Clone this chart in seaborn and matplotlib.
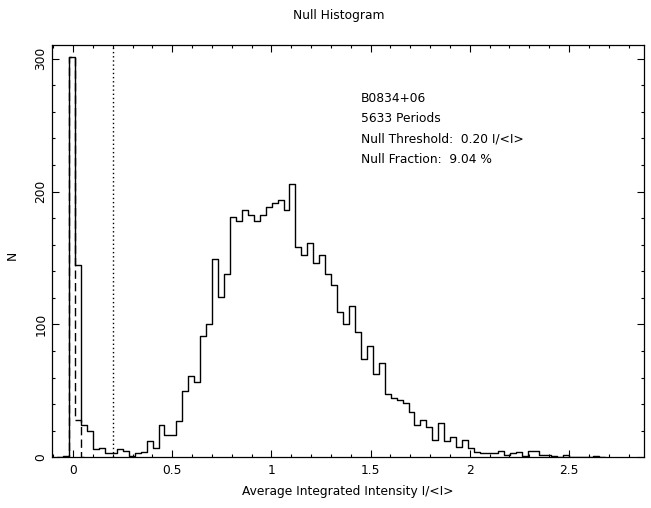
import numpy as np
import pandas as pd
import matplotlib
matplotlib.use("Agg")
import matplotlib.pyplot as plt
from matplotlib.ticker import MultipleLocator, FuncFormatter
import seaborn as sns

# ---- data ----
bin_start = -0.079      # left edge of first bin
bin_width = 0.03
counts = [0, 1, 301, 145, 24, 20, 6, 7, 3, 3, 6, 5, 1, 3, 4, 12, 7, 24, 17, 17,
          27, 50, 61, 57, 91, 100, 149, 121, 138, 181, 178, 186, 182, 178, 182,
          188, 191, 194, 186, 206, 158, 152, 161, 146, 152, 138, 130, 109, 100,
          114, 94, 74, 84, 63, 71, 48, 45, 43, 41, 34, 24, 28, 23, 13, 26, 12,
          15, 8, 13, 7, 4, 3, 3, 3, 5, 2, 3, 4, 1, 5, 5, 2, 2, 1, 0, 2, 0, 0,
          0, 0, 1, 0]
offpulse_start = -0.049
offpulse_counts = [0, 301, 28, 0]
null_threshold = 0.20
title = "Null Histogram"
xlabel = "Average Integrated Intensity I/<I>"
ylabel = "N"
info_lines = ["B0834+06", "5633 Periods", "Null Threshold:  0.20 I/<I>",
              "Null Fraction:  9.04 %"]

# ---- derived bins ----
edges = bin_start + bin_width * np.arange(len(counts) + 1)
df = pd.DataFrame({"center": edges[:-1] + bin_width / 2,
                   "count": np.asarray(counts, dtype=float)})
off_edges = offpulse_start + bin_width * np.arange(len(offpulse_counts) + 1)
df_off = pd.DataFrame({"center": off_edges[:-1] + bin_width / 2,
                       "count": np.asarray(offpulse_counts, dtype=float)})

sns.set_style("ticks")
plt.rcParams["font.family"] = ["DejaVu Sans"]
plt.rcParams["text.color"] = "black"

W, H = 651, 508
fig = plt.figure(figsize=(W / 100, H / 100), dpi=100)
L, R, T, B = 51.7, 644, 44.7, 457.3
ax = fig.add_axes([L / W, 1 - B / H, (R - L) / W, (B - T) / H])

sns.histplot(data=df_off, x="center", weights="count", bins=list(off_edges),
             element="step", fill=False, color="black", linewidth=1.0,
             linestyle=(0, (6, 3)), ax=ax)
sns.histplot(data=df, x="center", weights="count", bins=list(edges),
             element="step", fill=False, color="black", linewidth=1.0, ax=ax)
ax.axvline(null_threshold, color="black", linewidth=1.0, linestyle=(0, (1, 2)))

ax.set_xlim(-0.1074, 2.878)
ax.set_ylim(0, 310.5)
ax.set_xlabel("")
ax.set_ylabel("")

ax.xaxis.set_major_locator(MultipleLocator(0.5))
ax.xaxis.set_minor_locator(MultipleLocator(0.1))
ax.yaxis.set_major_locator(MultipleLocator(100))
ax.yaxis.set_minor_locator(MultipleLocator(20))
ax.xaxis.set_major_formatter(FuncFormatter(lambda v, p: "%g" % v))
ax.yaxis.set_major_formatter(FuncFormatter(lambda v, p: "%g" % v))
ax.tick_params(which="both", direction="in", top=True, right=True,
               width=0.8, colors="black", labelsize=8.8)
ax.tick_params(which="major", length=4.8)
ax.tick_params(which="minor", length=2.4)
ax.tick_params(axis="x", pad=5)
ax.tick_params(axis="y", pad=3)
for lab in ax.get_yticklabels():
    lab.set_rotation(90)
    lab.set_va("center")
for s in ax.spines.values():
    s.set_visible(True)
    s.set_linewidth(0.9)
    s.set_color("black")

fig.text(339 / W, 1 - 15 / H, title, ha="center", va="center", fontsize=8.8)
fig.text(348 / W, 1 - 492 / H, xlabel, ha="center", va="center", fontsize=8.8)
fig.text(12 / W, 1 - 255 / H, ylabel, ha="center", va="center", fontsize=8.8,
         rotation=90)

base_y = [101.6, 122.2, 142.8, 163.4]
for txt, py in zip(info_lines, base_y):
    ax.text(1.45, (B - py) / ((B - T) / 310.5), txt, ha="left", va="baseline",
            fontsize=8.8)

fig.savefig("out.png", dpi=100)
